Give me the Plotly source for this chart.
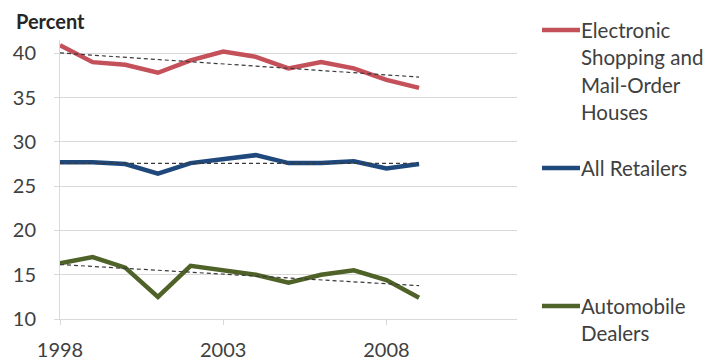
import numpy as np
import plotly.graph_objects as go

# Share of sales, percent, by year
years = [1998, 1999, 2000, 2001, 2002, 2003, 2004, 2005, 2006, 2007, 2008, 2009]
electronic_shopping = [40.9, 39.0, 38.7, 37.8, 39.2, 40.2, 39.6, 38.3, 39.0, 38.3, 37.0, 36.1]
all_retailers = [27.7, 27.7, 27.5, 26.4, 27.6, 28.0, 28.5, 27.6, 27.6, 27.8, 27.0, 27.5]
automobile_dealers = [16.3, 17.0, 15.8, 12.5, 16.0, 15.5, 15.0, 14.1, 15.0, 15.5, 14.4, 12.4]

series_names = ["Electronic Shopping and Mail-Order Houses", "All Retailers", "Automobile Dealers"]
series_values = [electronic_shopping, all_retailers, automobile_dealers]
series_colors = ["#C4505A", "#1F497D", "#4F6228"]

# Legend text, one entry per line of wrapped text
legend_lines = [["Electronic", "Shopping and", "Mail-Order", "Houses"],
                ["All Retailers"],
                ["Automobile", "Dealers"]]
legend_y = [30, 168, 306]  # pixel row of each legend entry's first line

y_ticks = [10, 15, 20, 25, 30, 35, 40]
x_ticks = [1998, 2003, 2008]

W, H = 710, 361
FONT = "Lato, Calibri, sans-serif"
GRID = "#D9D9D9"
TEXT = "#404040"

fig = go.Figure()

for name, vals, col in zip(series_names, series_values, series_colors):
    fig.add_trace(go.Scatter(x=years, y=vals, mode="lines", name=name,
                             line=dict(color=col, width=4.5), showlegend=False))

# Linear trend lines
for vals in series_values:
    slope, icpt = np.polyfit(years, vals, 1)
    tx = [years[0], years[-1]]
    ty = [icpt + slope * t for t in tx]
    fig.add_trace(go.Scatter(x=tx, y=ty, mode="lines", showlegend=False,
                             line=dict(color="#3A3A3A", width=1.2, dash="4px,3px")))

ml, mr, mt, mb = 60, 193, 40, 42

def px_to_paper_y(py):
    return 1 - (py - mt) / (H - mt - mb)

def px_to_paper_x(px):
    return (px - ml) / (W - ml - mr)

annotations = [dict(text="<b>Percent</b>", xref="paper", yref="paper",
                    x=px_to_paper_x(14), y=px_to_paper_y(21), xanchor="left", yanchor="middle",
                    showarrow=False, font=dict(family=FONT, size=20, color="#262626"))]
shapes = []
line_step = 27.3
for lines, col, y0 in zip(legend_lines, series_colors, legend_y):
    shapes.append(dict(type="line", xref="paper", yref="paper",
                       x0=px_to_paper_x(542), x1=px_to_paper_x(580),
                       y0=px_to_paper_y(y0), y1=px_to_paper_y(y0),
                       line=dict(color=col, width=4.5)))
    for i, t in enumerate(lines):
        annotations.append(dict(text=t, xref="paper", yref="paper",
                                x=px_to_paper_x(579), y=px_to_paper_y(y0 + i * line_step),
                                xanchor="left", yanchor="middle", showarrow=False,
                                font=dict(family=FONT, size=20.5, color=TEXT)))

fig.update_layout(
    width=W, height=H,
    margin=dict(l=ml, r=mr, t=mt, b=mb, autoexpand=False),
    paper_bgcolor="white", plot_bgcolor="white",
    showlegend=False,
    annotations=annotations,
    shapes=shapes,
    xaxis=dict(range=[1998, 2012], tickvals=x_ticks, ticktext=[str(v) for v in x_ticks],
               showgrid=False, zeroline=False, showline=True, linecolor=GRID, linewidth=1,
               ticks="outside", ticklen=5, tickcolor=GRID, automargin=False,
               ticklabelstandoff=8,
               tickfont=dict(family=FONT, size=20, color=TEXT)),
    yaxis=dict(range=[10, 41.5], tickvals=y_ticks, ticktext=[str(v) for v in y_ticks],
               showgrid=True, gridcolor=GRID, gridwidth=1, zeroline=False,
               showline=True, linecolor=GRID, linewidth=1,
               ticks="outside", ticklen=5, tickcolor=GRID, automargin=False,
               ticklabelstandoff=14,
               tickfont=dict(family=FONT, size=20, color=TEXT)),
)

fig.write_html("out.html")
